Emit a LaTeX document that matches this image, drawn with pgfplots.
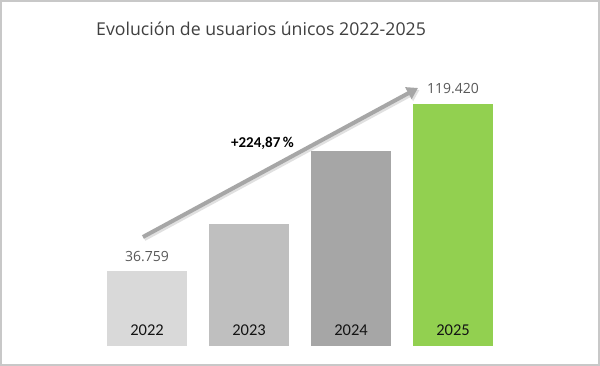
\documentclass[border=0pt]{standalone}
\usepackage{pgfplots}
\pgfplotsset{compat=1.18}
\usepackage{fontspec}
\setmainfont{Carlito}
\newfontfamily\titlefont{Open Sans}
\usetikzlibrary{arrows.meta}
\definecolor{c22}{HTML}{D9D9D9}
\definecolor{c23}{HTML}{BFBFBF}
\definecolor{c24}{HTML}{A6A6A6}
\definecolor{c25}{HTML}{92D050}
\definecolor{titlec}{HTML}{404040}
\definecolor{valc}{HTML}{595959}
\definecolor{arrowc}{HTML}{A6A6A6}
\definecolor{framec}{HTML}{C8C8C8}
\tikzset{valstyle/.style={anchor=south, inner sep=0pt, yshift=10pt, text=valc, font=\titlefont\fontsize{14}{14}\selectfont,
    /pgf/number format/fixed, /pgf/number format/assume math mode=true, /pgf/number format/1000 sep={.}}}
\begin{document}
\begin{tikzpicture}[x=1pt,y=1pt]
\fill[white] (0,0) rectangle (600,366);
\draw[framec, line width=2pt] (1,1) rectangle (599,365);
\node[text=titlec, font=\titlefont\fontsize{17.7}{20}\selectfont] at (261,337) {Evolución de usuarios únicos 2022-2025};
\begin{axis}[
  at={(45pt,20pt)}, anchor=south west,
  scale only axis, width=510pt, height=320pt,
  xmin=-1, xmax=4, ymin=0, ymax=157900,
  axis on top,
  axis line style={draw=none}, tick style={draw=none},
  ytick=\empty, scaled ticks=false,
  xtick={0,1,2,3}, xticklabels={2022,2023,2024,2025},
  xticklabel style={anchor=center, yshift=16pt, text=black!92, font=\fontsize{16.5}{16}\selectfont},
  clip=false,
]
\addplot[ybar, bar width=80pt, bar shift=0pt, fill=c22, draw=none,
  nodes near coords, nodes near coords style={valstyle}]
  coordinates {(0,36759)};
\addplot[ybar, bar width=80pt, bar shift=0pt, fill=c23, draw=none] coordinates {(1,60100)};
\addplot[ybar, bar width=80pt, bar shift=0pt, fill=c24, draw=none] coordinates {(2,96400)};
\addplot[ybar, bar width=80pt, bar shift=0pt, fill=c25, draw=none,
  nodes near coords, nodes near coords style={valstyle}]
  coordinates {(3,119420)};
% arrow with soft shadow
\draw[black!12, line width=4pt, -{Triangle[length=11pt,width=13pt]}]
  ([xshift=1.5pt,yshift=-2pt]axis cs:-0.04,53790) -- ([xshift=1.5pt,yshift=-2pt]axis cs:2.657,127320);
\draw[arrowc, line width=4pt, -{Triangle[length=11pt,width=13pt]}]
  (axis cs:-0.04,53790) -- (axis cs:2.657,127320);
\node[font=\bfseries\fontsize{15}{15}\selectfont, text=black] at (axis cs:1.132,100170) {+224,87\,\%};
\end{axis}
\end{tikzpicture}
\end{document}
